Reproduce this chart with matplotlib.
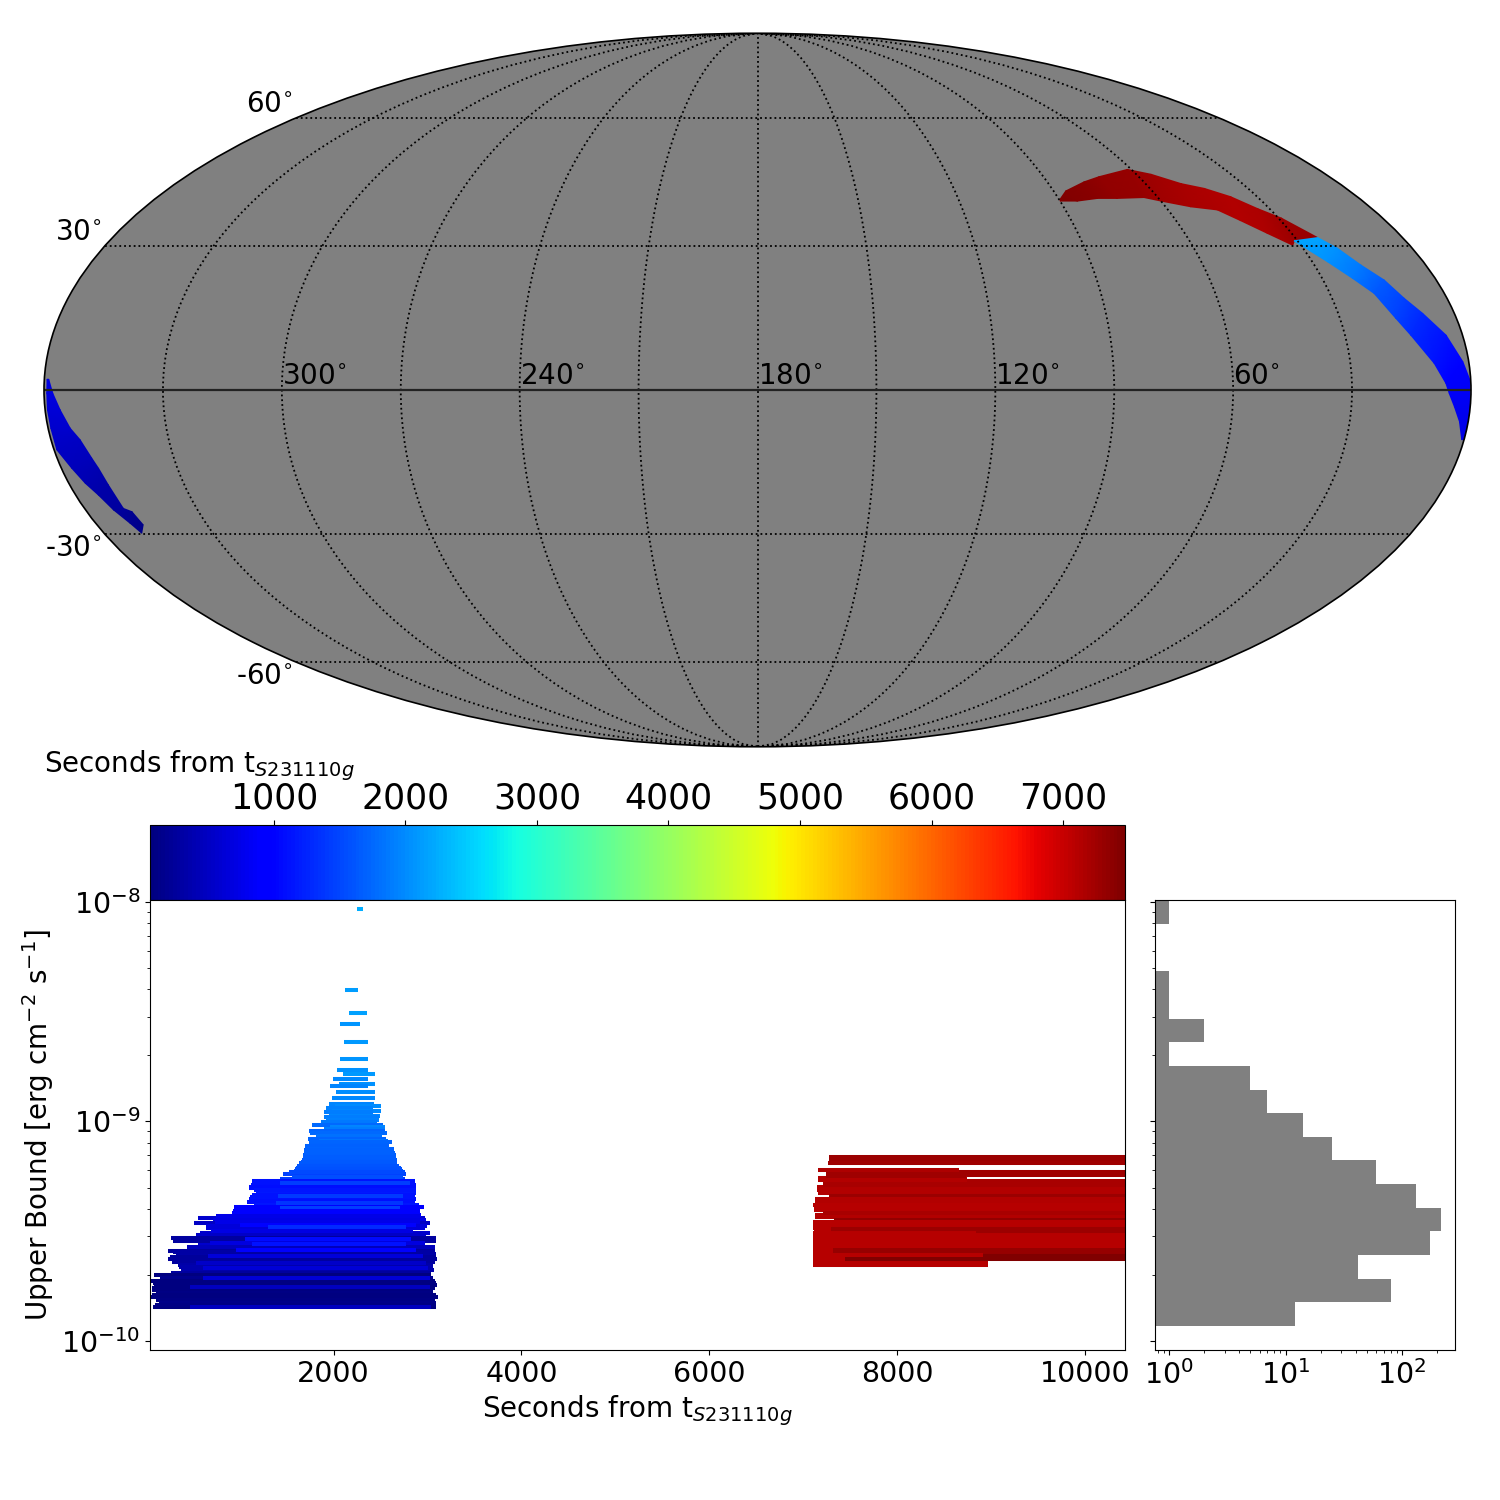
import numpy as np
import matplotlib
matplotlib.use("Agg")
import matplotlib.pyplot as plt
from matplotlib.colors import Normalize
from matplotlib.cm import ScalarMappable
from matplotlib.ticker import LogLocator, NullFormatter

# sky strip: lon/lat of both edges at each station (degrees)
red_lon_top = [89.7, 86.3, 78.6, 72.6, 61.3, 55.4, 49.0, 43.4, 38.0, 33.5, 29.2, 23.7]
red_lat_top = [40.3, 42.2, 44.3, 45.5, 47.2, 46.1, 43.9, 42.8, 40.9, 38.2, 36.1, 31.8]
red_lon_bot = [90.0, 84.8, 78.3, 72.4, 64.2, 60.0, 52.6, 45.6, 41.5, 36.8, 32.3, 31.0]
red_lat_bot = [39.9, 39.9, 40.5, 40.5, 40.7, 39.9, 38.6, 37.9, 35.5, 32.7, 30.15, 31.1]
red_time = [7460, 7440, 7400, 7350, 7300, 7240, 7190, 7160, 7150, 7170, 7240, 7300]

east_lon_top = [23.7, 20.6, 17.5, 13.8, 11.2, 8.2, 4.2, 1.5, 0.2, 0.1, 0.0, 0.0]
east_lat_top = [31.8, 29.5, 25.9, 22.7, 18.9, 15.75, 11.26, 5.8, 2.04, -3.4, -5.46, -10.2]
east_lon_bot = [31.0, 25.9, 21.9, 18.4, 15.6, 13.2, 8.8, 6.3, 5.5, 4.0, 2.2, 0.6]
east_lat_bot = [31.1, 26.6, 23.05, 19.9, 14.7, 11.26, 5.46, 1.37, -0.67, -3.4, -6.48, -10.2]
east_time = [2180, 2040, 1860, 1650, 1470, 1290, 1110, 950, 860, 800, 760, 720]

west_lon_top = [358.9, 357.8, 356.2, 354.4, 352.6, 351.1, 350.4, 349.9, 349.6, 347.9, 347.4]
west_lat_top = [2.2, -0.67, -4.1, -7.84, -10.2, -14.0, -16.1, -19.55, -24.5, -25.2, -28.0]
west_lon_bot = [359.3, 359.3, 359.4, 359.3, 359.3, 357.3, 355.7, 354.0, 352.5, 350.6, 349.6]
west_lat_bot = [2.2, -0.67, -4.1, -7.84, -12.3, -16.1, -19.2, -21.65, -24.8, -27.7, -29.8]
west_time = [700, 670, 620, 570, 510, 440, 390, 330, 270, 200, 130]

# early epoch rows: log10(upper bound), start, stop (seconds)
blue_log_ub = [-8.032, -8.401, -8.506, -8.556, -8.638, -8.715, -8.765, -8.784, -8.806, -8.829,
               -8.838, -8.866, -8.893, -8.920, -8.929, -8.938, -8.952, -8.957, -8.975, -8.979,
               -8.993, -9.002, -9.016, -9.025, -9.034, -9.043, -9.052, -9.066, -9.080, -9.089,
               -9.093, -9.112, -9.125,
               -9.130, -9.153, -9.175, -9.191, -9.213, -9.224, -9.239, -9.262, -9.270, -9.289,
               -9.304, -9.324, -9.335, -9.355, -9.365, -9.380, -9.388, -9.418, -9.440, -9.449,
               -9.464, -9.487, -9.506, -9.517, -9.532, -9.544, -9.563, -9.572, -9.588, -9.604,
               -9.626, -9.640, -9.654, -9.677, -9.689, -9.699, -9.711, -9.725, -9.746, -9.768,
               -9.780, -9.801, -9.813, -9.825, -9.844,
               -9.142, -9.164, -9.183, -9.202, -9.218, -9.231, -9.297, -9.314, -9.346, -9.428,
               -9.475, -9.595, -9.617, -9.664, -9.736, -9.757, -9.790, -9.835,
               -9.254, -9.282, -9.339, -9.373, -9.396, -9.406, -9.431, -9.456, -9.472, -9.479,
               -9.497, -9.552, -9.537, -9.558, -9.585, -9.611, -9.646, -9.669, -9.715, -9.752,
               -9.847]
blue_start = [2245, 2117, 2160, 2064, 2106, 2064, 2032, 2096, 1989, 2053,
              1957, 2021, 1979, 1947, 2011, 1915, 1979, 1894, 1947, 1894,
              1915, 1862, 1766, 1957, 1894, 1734, 1745, 1809, 1723, 1840,
              1734, 1691, 1713,
              1684, 1674, 1663, 1631, 1603, 1574, 1461, 1433, 1128, 1117,
              1096, 1170, 1128, 1096, 1075, 1149, 936, 915, 553, 716,
              511, 645, 575, 532, 266, 287, 553, 436, 234, 319,
              234, 283, 340, 372, 266, 85, 149, 60, 85, 64,
              106, 60, 106, 138, 75,
              1680, 1670, 1650, 1615, 1590, 1520, 1100, 1150, 1110, 915,
              640, 290, 260, 350, 80, 70, 70, 100,
              1553, 1426, 1404, 1383, 1426, 929, 752, 734, 1000, 1298,
              699, 681, 1053, 1128, 965, 663, 539, 610, 610, 468,
              468]
blue_stop = [2308, 2255, 2351, 2277, 2362, 2362, 2362, 2436, 2362, 2436,
             2362, 2436, 2436, 2426, 2500, 2415, 2500, 2415, 2489, 2479,
             2479, 2457, 2521, 2543, 2532, 2543, 2564, 2511, 2553, 2574,
             2617, 2585, 2638,
             2638, 2660, 2674, 2674, 2720, 2738, 2773, 2755, 2862, 2879,
             2879, 2879, 2862, 2879, 2862, 2904, 2957, 2915, 2968, 2986,
             3021, 2968, 3021, 2986, 3092, 3092, 2968, 3074, 3074, 3092,
             3103, 3074, 3057, 3064, 3039, 3039, 3057, 3074, 3103, 3057,
             3057, 3113, 3074, 3092, 3092,
             2650, 2665, 2674, 2700, 2730, 2755, 2879, 2879, 2870, 2930,
             2990, 3080, 3090, 3060, 3090, 3080, 3090, 3092,
             2738, 2808, 2738, 2738, 2702, 2915, 2915, 2915, 2879, 2773,
             2844, 2968, 2826, 2773, 2879, 2950, 2986, 3003, 3021, 3021,
             3039]

# late epoch rows, most of them run past the right edge of the axes
red_log_ub = [-9.244, -9.487, -9.498, -9.508, -9.590, -9.622,
              -9.236, -9.256, -9.278, -9.300, -9.367, -9.391, -9.425, -9.467, -9.476, -9.498,
              -9.508, -9.535, -9.555, -9.578, -9.585, -9.642,
              -9.160, -9.172, -9.188, -9.228, -9.221, -9.247, -9.269, -9.266, -9.289, -9.312,
              -9.327, -9.339, -9.355, -9.380, -9.403, -9.415, -9.434, -9.449, -9.456, -9.488,
              -9.518, -9.525, -9.543, -9.566, -9.593, -9.613, -9.628, -9.607, -9.634, -9.652]
red_start = [7241, 7106, 7110, 7106, 7099, 7106,
             7241, 7152, 7206, 7142, 7128, 7117, 7128, 7106, 7099, 7294,
             7106, 7106, 7106, 7106, 7312, 7099,
             7276, 7269, 7259, 7241, 7159, 7241, 7206, 7152, 7206, 7142,
             7152, 7276, 7128, 7106, 7117, 7206, 7128, 7330, 7106, 7294,
             7106, 7099, 7106, 7106, 7312, 7447, 7447, 7099, 7106, 7099]
red_stop = [10600, 10600, 8837, 10600, 8900, 8900,
            8730, 8748, 10600, 10600, 10600, 10600, 10600, 10600, 10600, 10600,
            8837, 10600, 10600, 10600, 10600, 8968,
            10600, 10600, 10600, 10600, 8659, 8730, 10600, 8748, 10600, 10600,
            10600, 10600, 10600, 10600, 10600, 10600, 10600, 10600, 10600, 10600,
            8837, 10600, 10600, 10600, 10600, 10600, 10600, 8908, 7418, 8968]

# histogram of the upper bounds
hist_counts = [1, 0, 0, 1, 1, 2, 1, 5, 7, 14, 25, 60, 133, 218, 175, 42, 80, 12]
hist_log_top = -7.994
hist_log_bottom = -9.931

cbar_ticks = [1000, 2000, 3000, 4000, 5000, 6000, 7000]
time_ticks = [2000, 4000, 6000, 8000, 10000]
lon_labels = [300, 240, 180, 120, 60]

time_label = r"Seconds from t$_{S231110g}$"
ylabel = r"Upper Bound [erg cm$^{-2}$ s$^{-1}$]"


def axes_px(left, top, right, bottom):
    return [left / 1500, 1 - bottom / 1500, (right - left) / 1500, (bottom - top) / 1500]


def draw_strip(ax, lon_top, lat_top, lon_bot, lat_bot, times):
    # two rows of vertices, the renderer blends the colour between stations
    x = np.radians(180 - np.array([lon_top, lon_bot]))
    y = np.radians(np.array([lat_top, lat_bot]))
    c = np.array([times, times])
    ax.pcolormesh(x, y, c, shading="gouraud", cmap=cmap, norm=norm, zorder=1.5)


norm = Normalize(58, 7471)
cmap = plt.get_cmap("jet")

fig = plt.figure(figsize=(15, 15), dpi=100)

# sky map
ax_sky = fig.add_axes(axes_px(44, 33, 1471, 747), projection="mollweide")
ax_sky.set_facecolor("gray")
ax_sky.set_longitude_grid(30)
ax_sky.set_latitude_grid(30)
ax_sky.set_longitude_grid_ends(90)
ax_sky.grid(True, color="black", linestyle=":", linewidth=1.3)
ax_sky.set_xticklabels([])
ax_sky.set_yticklabels([])
ax_sky.plot([-np.pi, np.pi], [0, 0], color="#222222", linewidth=1.6)
ax_sky.spines["geo"].set_linewidth(1.2)

draw_strip(ax_sky, red_lon_top, red_lat_top, red_lon_bot, red_lat_bot, red_time)
draw_strip(ax_sky, east_lon_top, east_lat_top, east_lon_bot, east_lat_bot, east_time)
draw_strip(ax_sky, west_lon_top, west_lat_top, west_lon_bot, west_lat_bot, west_time)

for lon, px in zip(lon_labels, [282, 520, 758, 995, 1233]):
    fig.text(px / 1500, 1 - 384 / 1500, str(lon) + r"$^{\circ}$", fontsize=20, ha="left", va="baseline")
for lat, px, py in [(60, 293, 112), (30, 102, 240), (-30, 102, 556), (-60, 293, 684)]:
    fig.text(px / 1500, 1 - py / 1500, str(lat) + r"$^{\circ}$", fontsize=20, ha="right", va="baseline")

# colorbar
ax_cbar = fig.add_axes(axes_px(150, 825, 1125, 900))
cbar = fig.colorbar(ScalarMappable(norm=norm, cmap=cmap), cax=ax_cbar, orientation="horizontal")
cbar.set_ticks(cbar_ticks)
ax_cbar.xaxis.set_ticks_position("top")
ax_cbar.tick_params(labelsize=25)
fig.text(43.5 / 1500, 1 - 772 / 1500, time_label, fontsize=20, ha="left", va="baseline")

# upper bounds vs time
ax_main = fig.add_axes(axes_px(150, 900, 1125, 1350))
ax_main.hlines(10.0 ** np.array(blue_log_ub), blue_start, blue_stop,
               colors=cmap(norm(np.array(blue_start))), linewidth=2.9)
ax_main.hlines(10.0 ** np.array(red_log_ub), red_start, red_stop,
               colors=cmap(norm(np.array(red_start))), linewidth=2.9)
ax_main.set_yscale("log")
ax_main.set_xlim(45, 10425)
ax_main.set_ylim(0.91e-10, 1.02e-8)
ax_main.set_xticks(time_ticks)
ax_main.yaxis.set_minor_locator(LogLocator(base=10, subs=np.arange(2, 10), numticks=20))
ax_main.yaxis.set_minor_formatter(NullFormatter())
ax_main.tick_params(axis="both", which="major", labelsize=20.5)
ax_main.set_xlabel(time_label, fontsize=20)
ax_main.set_ylabel(ylabel, fontsize=20)

# marginal histogram
ax_hist = fig.add_axes(axes_px(1155, 900, 1455, 1350))
hist_edges = np.logspace(hist_log_bottom, hist_log_top, len(hist_counts) + 1)
hist_centers = np.sqrt(hist_edges[:-1] * hist_edges[1:])
ax_hist.hist(hist_centers, bins=hist_edges, weights=hist_counts[::-1], orientation="horizontal",
             color="gray", log=True)
ax_hist.set_yscale("log")
ax_hist.set_xscale("log")
ax_hist.set_ylim(0.91e-10, 1.02e-8)
ax_hist.set_xlim(0.758, 285)
ax_hist.yaxis.set_minor_locator(LogLocator(base=10, subs=np.arange(2, 10), numticks=20))
ax_hist.yaxis.set_minor_formatter(NullFormatter())
ax_hist.set_yticklabels([])
ax_hist.tick_params(axis="x", which="major", labelsize=20.5)

fig.savefig("out.png", dpi=100)
